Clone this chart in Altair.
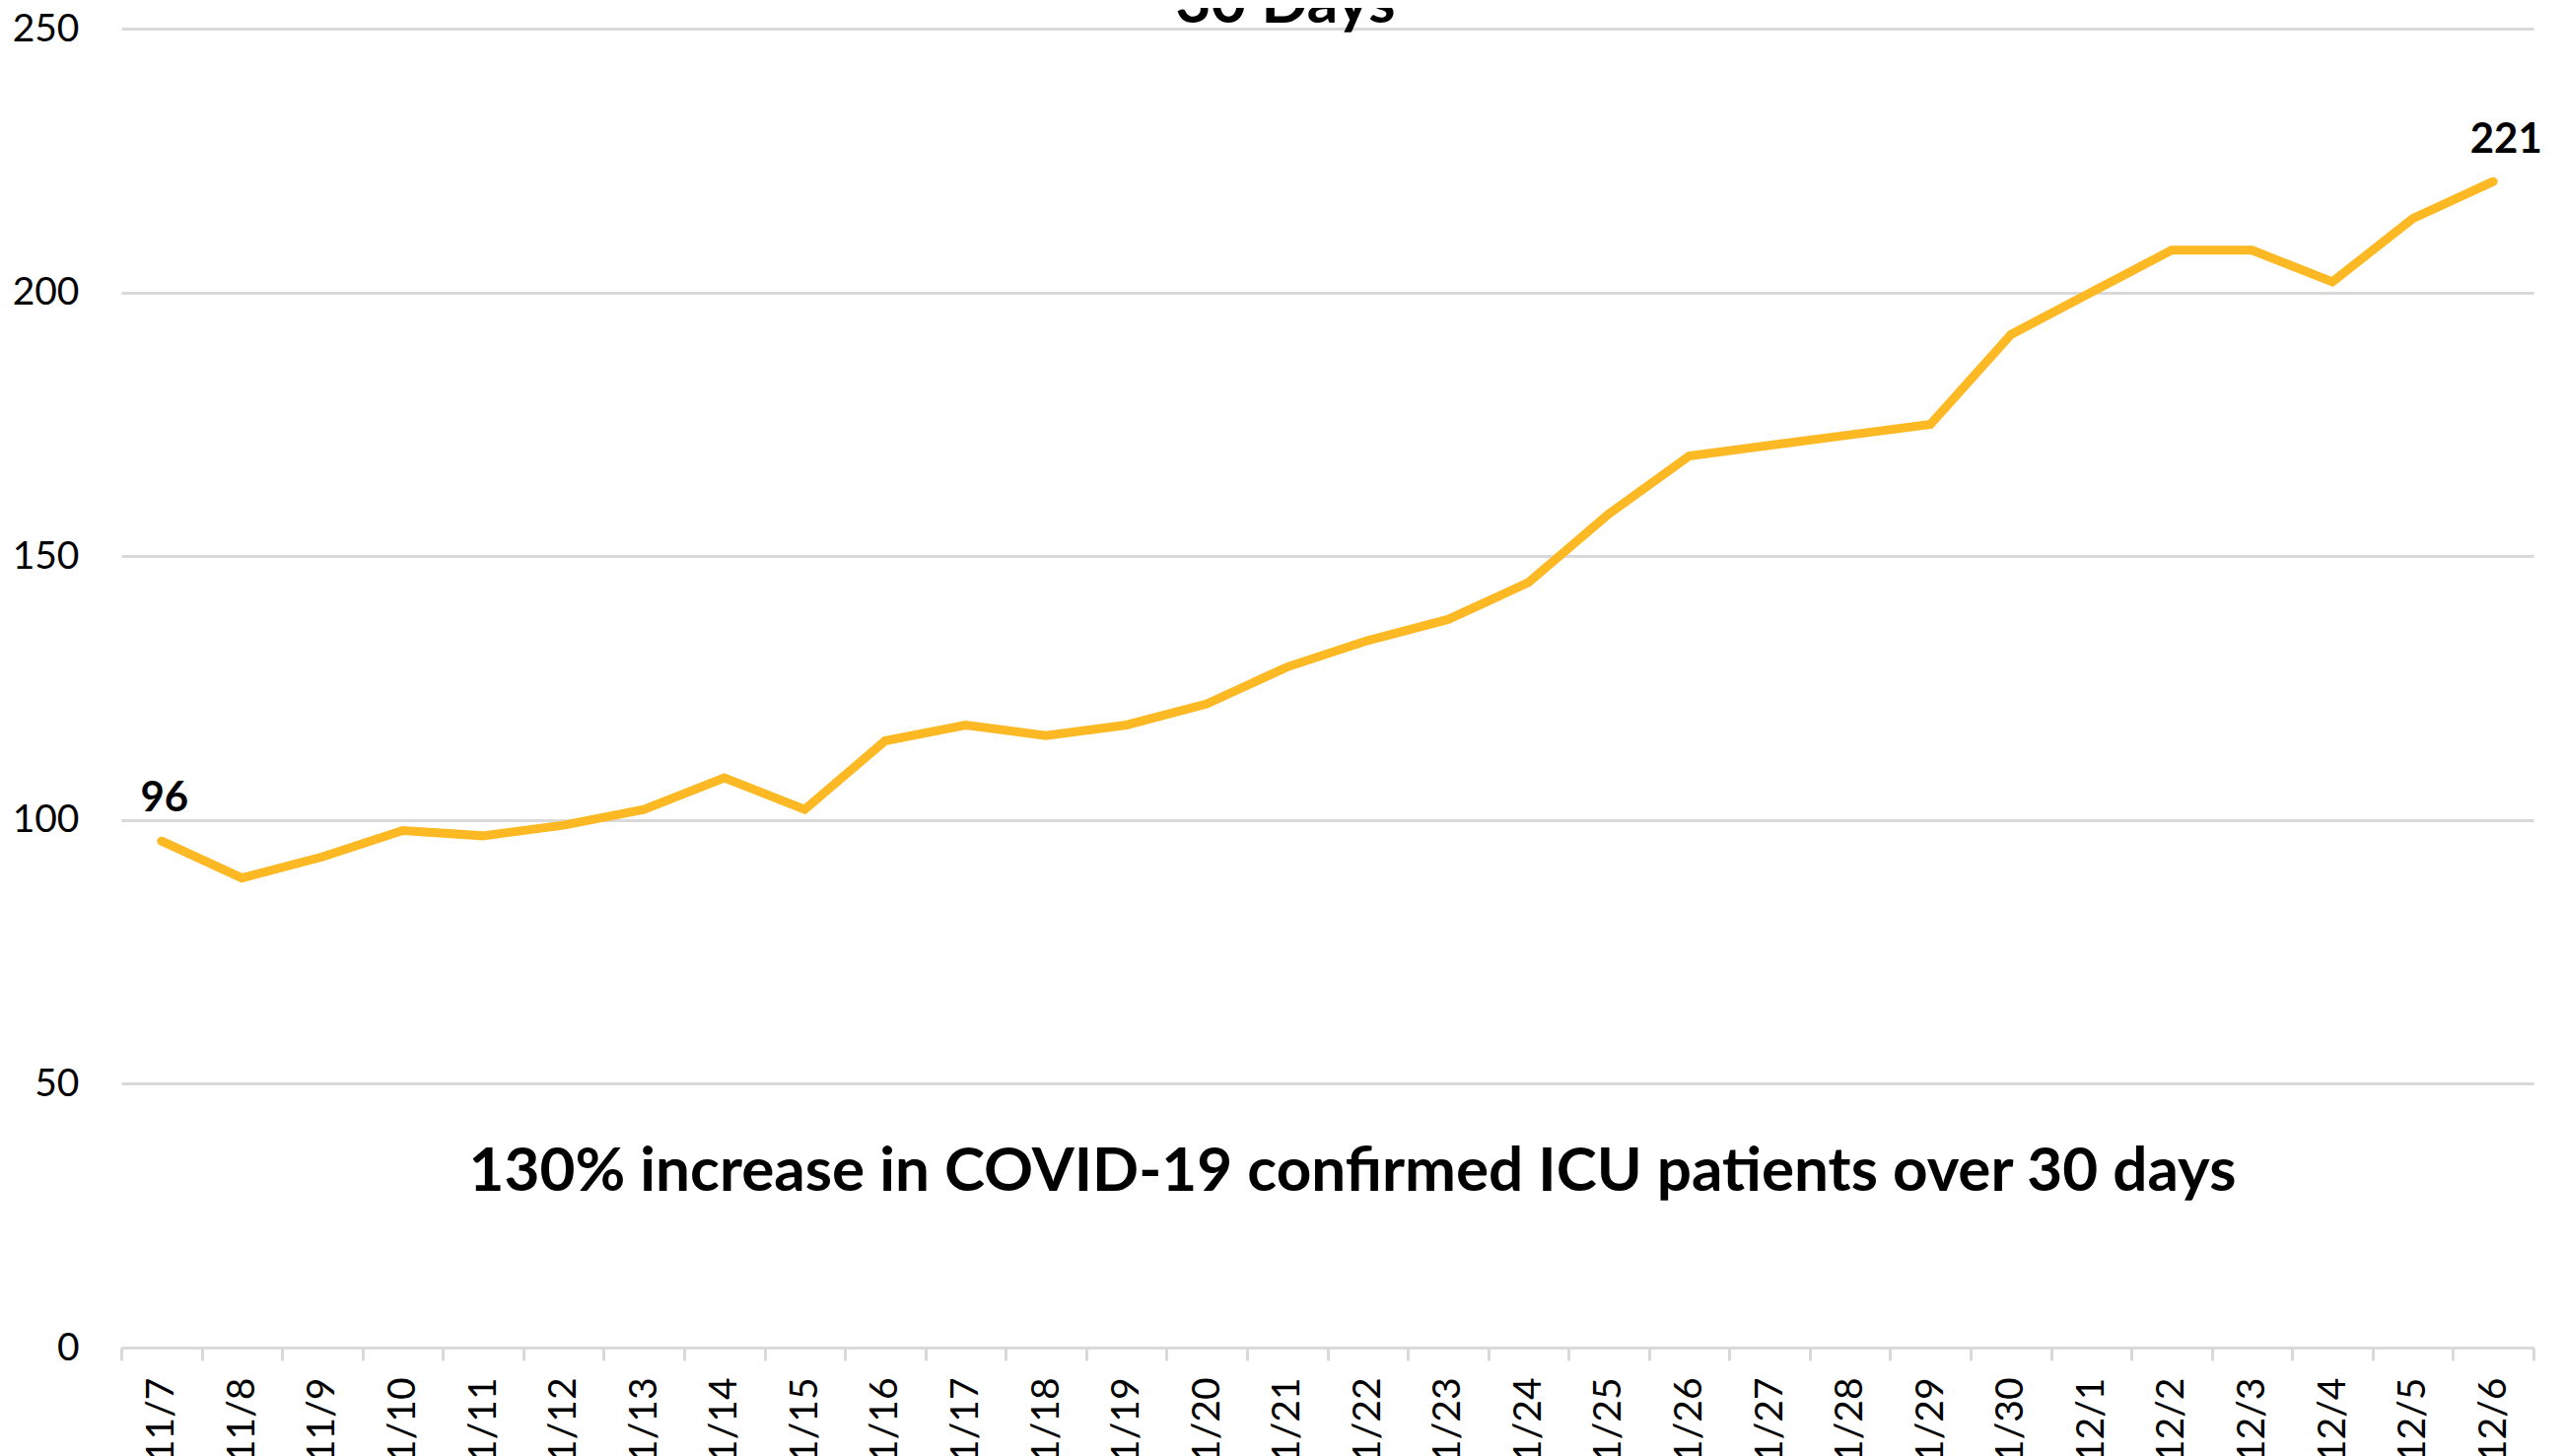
import altair as alt
import pandas as pd

dates = ["11/7", "11/8", "11/9", "11/10", "11/11", "11/12", "11/13", "11/14", "11/15",
         "11/16", "11/17", "11/18", "11/19", "11/20", "11/21", "11/22", "11/23", "11/24",
         "11/25", "11/26", "11/27", "11/28", "11/29", "11/30", "12/1", "12/2", "12/3",
         "12/4", "12/5", "12/6"]
icu_patients = [96, 89, 93, 98, 97, 99, 102, 108, 102, 115, 118, 116, 118, 122, 129, 134,
                138, 145, 158, 169, 171, 173, 175, 192, 200, 208, 208, 202, 214, 221]
y_ticks = [0, 50, 100, 150, 200, 250]
title_text = "30 Days"
note_text = "130% increase in COVID-19 confirmed ICU patients over 30 days"

df = pd.DataFrame({"date": dates, "value": icu_patients})

FONT = "Lato"
LINE_COLOR = "#FDB924"
GRID = "#d9d9d9"

x_enc = alt.X("date:N", sort=dates, title=None,
              scale=alt.Scale(paddingInner=0, paddingOuter=0),
              axis=alt.Axis(labelAngle=270, labelFont=FONT, labelFontSize=39,
                            labelColor="#000000", labelPadding=17,
                            tickBand="extent", tickColor=GRID, tickWidth=3, tickSize=13,
                            domainColor=GRID, domainWidth=3, grid=False))
y_enc = alt.Y("value:Q", title=None,
              scale=alt.Scale(domain=[0, 250], nice=False),
              axis=alt.Axis(values=y_ticks, labelFont=FONT, labelFontSize=39,
                            labelColor="#000000", labelPadding=43,
                            domain=False, ticks=False, gridColor=GRID, gridWidth=3))

line = alt.Chart(df).mark_line(color=LINE_COLOR, strokeWidth=9, strokeCap="round",
                               strokeJoin="miter").encode(x=x_enc, y=y_enc)

first_lbl = alt.Chart(df.iloc[[0]]).mark_text(
    font=FONT, fontSize=42, fontWeight="bold", color="#000000",
    baseline="alphabetic", dy=-30, dx=3).encode(
    x=alt.X("date:N", sort=dates), y="value:Q", text="value:Q")
last_lbl = alt.Chart(df.iloc[[-1]]).mark_text(
    font=FONT, fontSize=42, fontWeight="bold", color="#000000",
    baseline="alphabetic", dy=-29, dx=13).encode(
    x=alt.X("date:N", sort=dates), y="value:Q", text="value:Q")

title = alt.Chart(pd.DataFrame({"t": [title_text]})).mark_text(
    font=FONT, fontSize=62, fontWeight="bold", color="#000000",
    baseline="alphabetic", align="center").encode(
    x=alt.value(1181), y=alt.value(-6), text="t:N")

note = alt.Chart(pd.DataFrame({"t": [note_text]})).mark_text(
    font=FONT, fontSize=62, fontWeight="bold", color="#000000",
    baseline="alphabetic", align="center").encode(
    x=alt.value(1249), y=alt.value(1179), text="t:N")

chart = alt.layer(line, first_lbl, last_lbl, title, note).properties(
    width=2447, height=1338,
    padding={"left": 115, "top": 21, "right": 24, "bottom": 120},
    autosize=alt.AutoSizeParams(type="none"),
    background="white",
).configure_view(stroke=None)

chart.save("out.html", embed_options={"renderer": "svg", "actions": False})
